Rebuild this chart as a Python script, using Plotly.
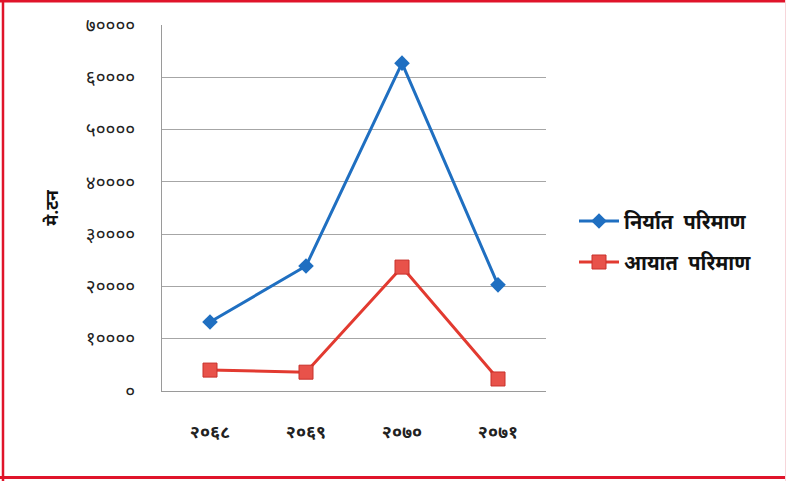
import plotly.graph_objects as go

years = ["२०६८", "२०६९", "२०७०", "२०७१"]
export_qty = [13200, 23900, 62700, 20300]
import_qty = [4000, 3600, 23700, 2300]
tick_vals = [0, 10000, 20000, 30000, 40000, 50000, 60000, 70000]
tick_text = ["०", "१००००", "२००००", "३००००", "४००००", "५००००", "६००००", "७००००"]
export_name = "निर्यात&nbsp; परिमाण"
import_name = "आयात&nbsp; परिमाण"
y_title = "मे.टन"

FONT = "Noto Sans Devanagari, Noto Sans, Lohit Devanagari, FreeSans, DejaVu Sans, sans-serif"
BLUE = "#1f6fc1"
RED = "#e23a30"
BORDER = "#e0142a"

W, H = 786, 481
L, R, T, B = 162, 240, 25, 90
pw, ph = W - L - R, H - T - B

def px(x):
    return (x - L) / pw

def py(y):
    return (H - B - y) / ph

fig = go.Figure()
fig.add_trace(go.Scatter(
    x=years, y=export_qty, name=export_name, mode="lines+markers",
    line=dict(color=BLUE, width=3),
    marker=dict(symbol="diamond", size=12, color=BLUE),
    legend="legend",
))
fig.add_trace(go.Scatter(
    x=years, y=import_qty, name=import_name, mode="lines+markers",
    line=dict(color=RED, width=3),
    marker=dict(symbol="square", size=14, color="#e8524a", line=dict(color="#c8302a", width=1)),
    legend="legend2",
))

legend_common = dict(
    xanchor="left", yanchor="middle", bgcolor="rgba(0,0,0,0)",
    font=dict(family=FONT, size=20, color="#111111", weight="bold"),
    itemwidth=40,
)

border_lines = [
    (px(0), py(1), px(786), py(1), 3),
    (px(3), py(0), px(3), py(481), 2.5),
    (px(0), py(477.5), px(786), py(477.5), 3),
]
shapes = [dict(type="line", xref="paper", yref="paper", x0=a, y0=b, x1=c, y1=d,
               line=dict(color=BORDER, width=w), layer="above")
          for a, b, c, d, w in border_lines]
shapes.append(dict(type="line", xref="paper", yref="paper", x0=px(785.5), y0=py(0), x1=px(785.5), y1=py(481),
                   line=dict(color="#f6d6da", width=1), layer="above"))

fig.update_layout(
    width=W, height=H,
    margin=dict(l=L, r=R, t=T, b=B, pad=0),
    paper_bgcolor="white", plot_bgcolor="white",
    font=dict(family=FONT),
    showlegend=True,
    legend=dict(x=px(574), y=py(221), **legend_common),
    legend2=dict(x=px(574), y=py(262), **legend_common),
    xaxis=dict(
        range=[-0.5, 3.5], showgrid=False, showline=True, linecolor="#9a9a9a", linewidth=1,
        ticks="", ticklabelstandoff=24,
        tickfont=dict(family=FONT, size=18, color="#222222", weight="bold"),
        zeroline=False,
    ),
    yaxis=dict(
        range=[0, 70000], tickvals=tick_vals, ticktext=tick_text,
        showgrid=True, gridcolor="#a6a6a6", gridwidth=1,
        showline=True, linecolor="#9a9a9a", linewidth=1,
        ticks="", ticklabelstandoff=22,
        tickfont=dict(family=FONT, size=19, color="#222222"),
        zeroline=False,
        title=dict(text=y_title, font=dict(family=FONT, size=17, color="#111111", weight="bold"), standoff=22),
    ),
    shapes=shapes,
)

fig.write_html("out.html")
